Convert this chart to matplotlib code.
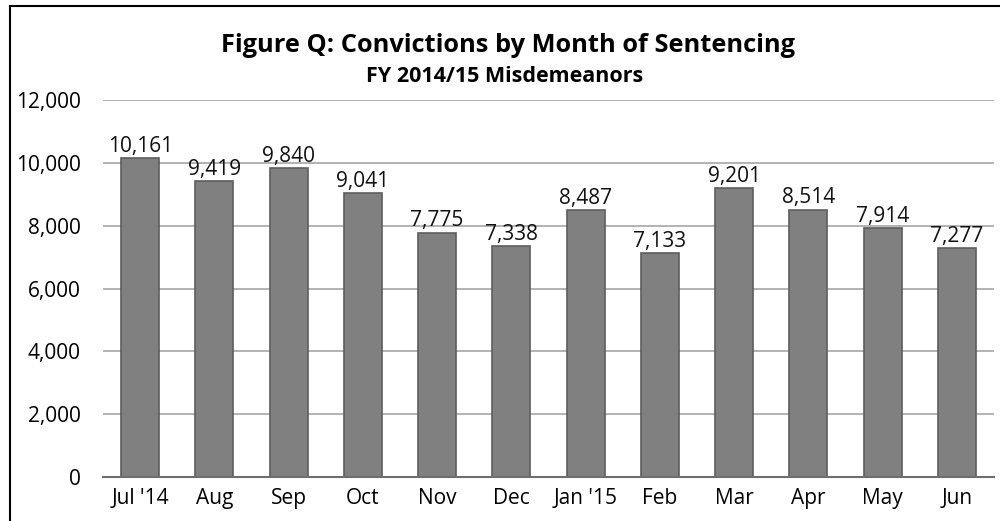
import matplotlib.pyplot as plt
from matplotlib.lines import Line2D

meses = ["Jul '14", "Aug", "Sep", "Oct", "Nov", "Dec", "Jan '15",
         "Feb", "Mar", "Apr", "May", "Jun"]
condenacoes = [10161, 9419, 9840, 9041, 7775, 7338, 8487,
               7133, 9201, 8514, 7914, 7277]
ticks_y = [0, 2000, 4000, 6000, 8000, 10000, 12000]

plt.rcParams["font.family"] = ["Open Sans", "DejaVu Sans"]

fig = plt.figure(figsize=(10, 5.21), dpi=100)
ax = fig.add_axes([0.103, 0.0845, 0.891, 0.7235])

posicoes = list(range(len(meses)))
barras = ax.bar(posicoes, condenacoes, width=0.51, color="#808080",
                edgecolor="#5e5e5e", linewidth=1.2, zorder=3)

for barra, valor in zip(barras, condenacoes):
    ax.text(barra.get_x() + barra.get_width() / 2, valor + 40,
            f"{valor:,}", ha="center", va="bottom", fontsize=15, color="#111111")

ax.set_xlim(-0.5, len(meses) - 0.5)
ax.set_ylim(0, 12000)
ax.set_yticks(ticks_y)
ax.set_yticklabels([f"{t:,}" for t in ticks_y], fontsize=15)
ax.set_xticks(posicoes)
ax.set_xticklabels(meses, fontsize=15)
ax.tick_params(axis="x", length=0, pad=8)
ax.tick_params(axis="y", length=0, pad=16)
ax.grid(axis="y", color="#a6a6a6", linewidth=1.2, zorder=0)

for lado in ["top", "right", "left"]:
    ax.spines[lado].set_visible(False)
ax.spines["bottom"].set_color("#6e6e6e")
ax.spines["bottom"].set_linewidth(1.5)
ax.spines["bottom"].set_zorder(4)

fig.text(0.508, 1 - 46 / 521, "Figure Q: Convictions by Month of Sentencing",
         ha="center", va="center", fontsize=18.3, fontweight="bold")
fig.text(0.505, 1 - 76 / 521, "FY 2014/15 Misdemeanors",
         ha="center", va="center", fontsize=15.5, fontweight="bold")

# moldura cortada (so topo e esquerda)
fig.add_artist(Line2D([10 / 1000, 1.0], [1 - 6 / 521, 1 - 6 / 521],
                      transform=fig.transFigure, color="black", linewidth=1.5))
fig.add_artist(Line2D([10 / 1000, 10 / 1000], [0, 1 - 6 / 521],
                      transform=fig.transFigure, color="black", linewidth=1.5))

fig.savefig("out.png", dpi=100)
